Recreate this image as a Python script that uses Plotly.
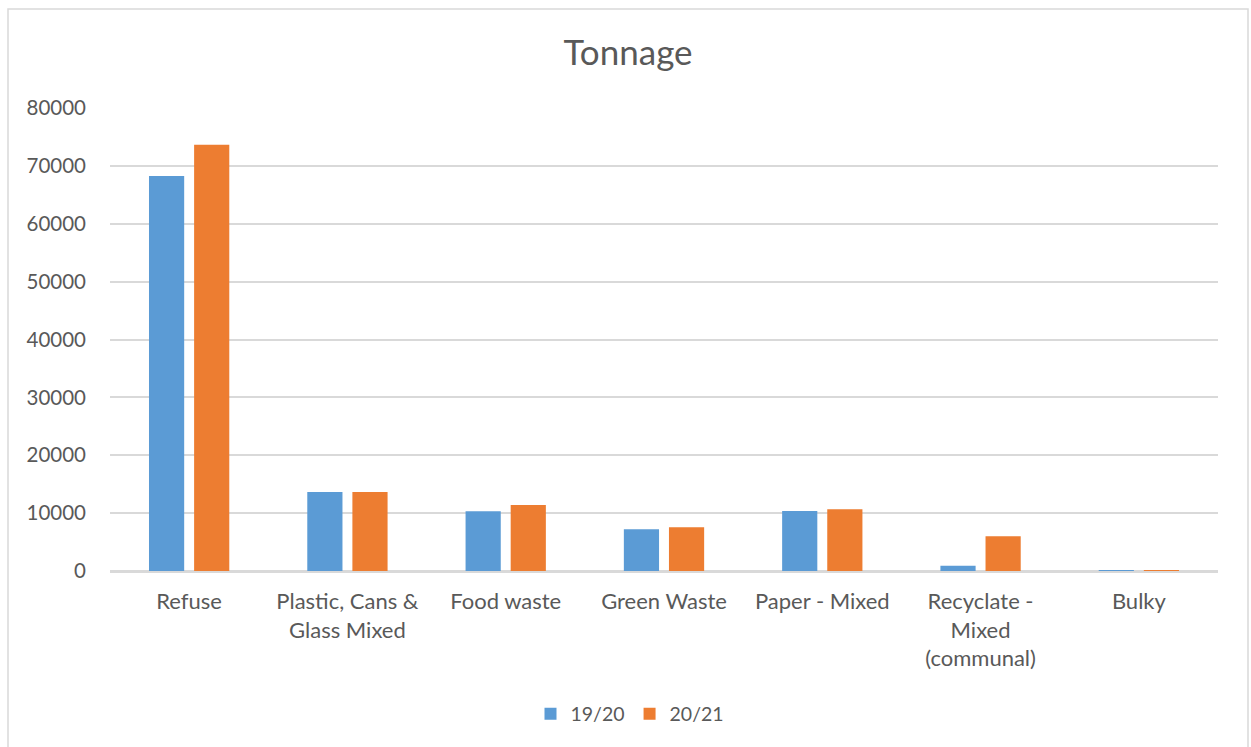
import plotly.graph_objects as go

# Waste stream categories (line breaks match the wrapped axis labels)
categories = [
    "Refuse",
    "Plastic, Cans &<br>Glass Mixed",
    "Food waste",
    "Green Waste",
    "Paper - Mixed",
    "Recyclate -<br>Mixed<br>(communal)",
    "Bulky",
]

# Tonnage per year
tonnage_1920 = [68270, 13640, 10310, 7200, 10360, 920, 150]
tonnage_2021 = [73630, 13640, 11400, 7550, 10650, 5990, 50]

series_names = ["19/20", "20/21"]
series_colors = ["#5B9BD5", "#ED7D31"]

y_ticks = [0, 10000, 20000, 30000, 40000, 50000, 60000, 70000, 80000]

FONT = "Lato, 'Open Sans', sans-serif"
TEXT = "#595959"

fig = go.Figure()
for name, vals, col in zip(series_names, [tonnage_1920, tonnage_2021], series_colors):
    fig.add_trace(go.Bar(
        x=categories, y=vals, name=name,
        marker=dict(color=col, line=dict(width=0)),
    ))

W, H = 1251, 747
L, R, T, B = 110, 33, 108, 176
pw, ph = W - L - R, H - T - B

def px_to_paper_x(x):
    return (x - L) / pw

def px_to_paper_y(y):
    return (H - B - y) / ph

fig.update_layout(
    width=W, height=H,
    margin=dict(l=L, r=R, t=T, b=B, pad=0),
    paper_bgcolor="white", plot_bgcolor="white",
    barmode="group", bargap=0.43, bargroupgap=0.22,
    font=dict(family=FONT, color=TEXT, size=20),
    title=dict(text="Tonnage", x=628 / W, xanchor="center", xref="container",
               y=1 - 53 / H, yanchor="middle", yref="container",
               font=dict(size=35, family=FONT, color=TEXT)),
    showlegend=True,
    legend=dict(orientation="h", x=630 / W, xanchor="center", xref="container",
                y=1 - 714 / H, yanchor="middle", yref="container",
                font=dict(size=19.5, family=FONT, color=TEXT),
                itemwidth=30, traceorder="normal"),
    xaxis=dict(showgrid=False, showline=True, linecolor="#D9D9D9", linewidth=1.5,
               ticks="", ticklabelstandoff=10, tickfont=dict(size=22)),
    yaxis=dict(range=[0, 80000], tickvals=y_ticks, ticktext=[str(v) for v in y_ticks],
               showgrid=True, gridcolor="#D9D9D9", gridwidth=1.5,
               zeroline=True, zerolinecolor="#D9D9D9", zerolinewidth=1.5,
               showline=False, ticks="", ticklabelstandoff=23,
               tickfont=dict(size=20.5)),
    shapes=[dict(type="rect", xref="paper", yref="paper",
                 x0=px_to_paper_x(8), x1=px_to_paper_x(1248),
                 y0=px_to_paper_y(770), y1=px_to_paper_y(9),
                 line=dict(color="#D9D9D9", width=1.5), fillcolor="rgba(0,0,0,0)",
                 layer="below")],
)

fig.write_html("out.html")
